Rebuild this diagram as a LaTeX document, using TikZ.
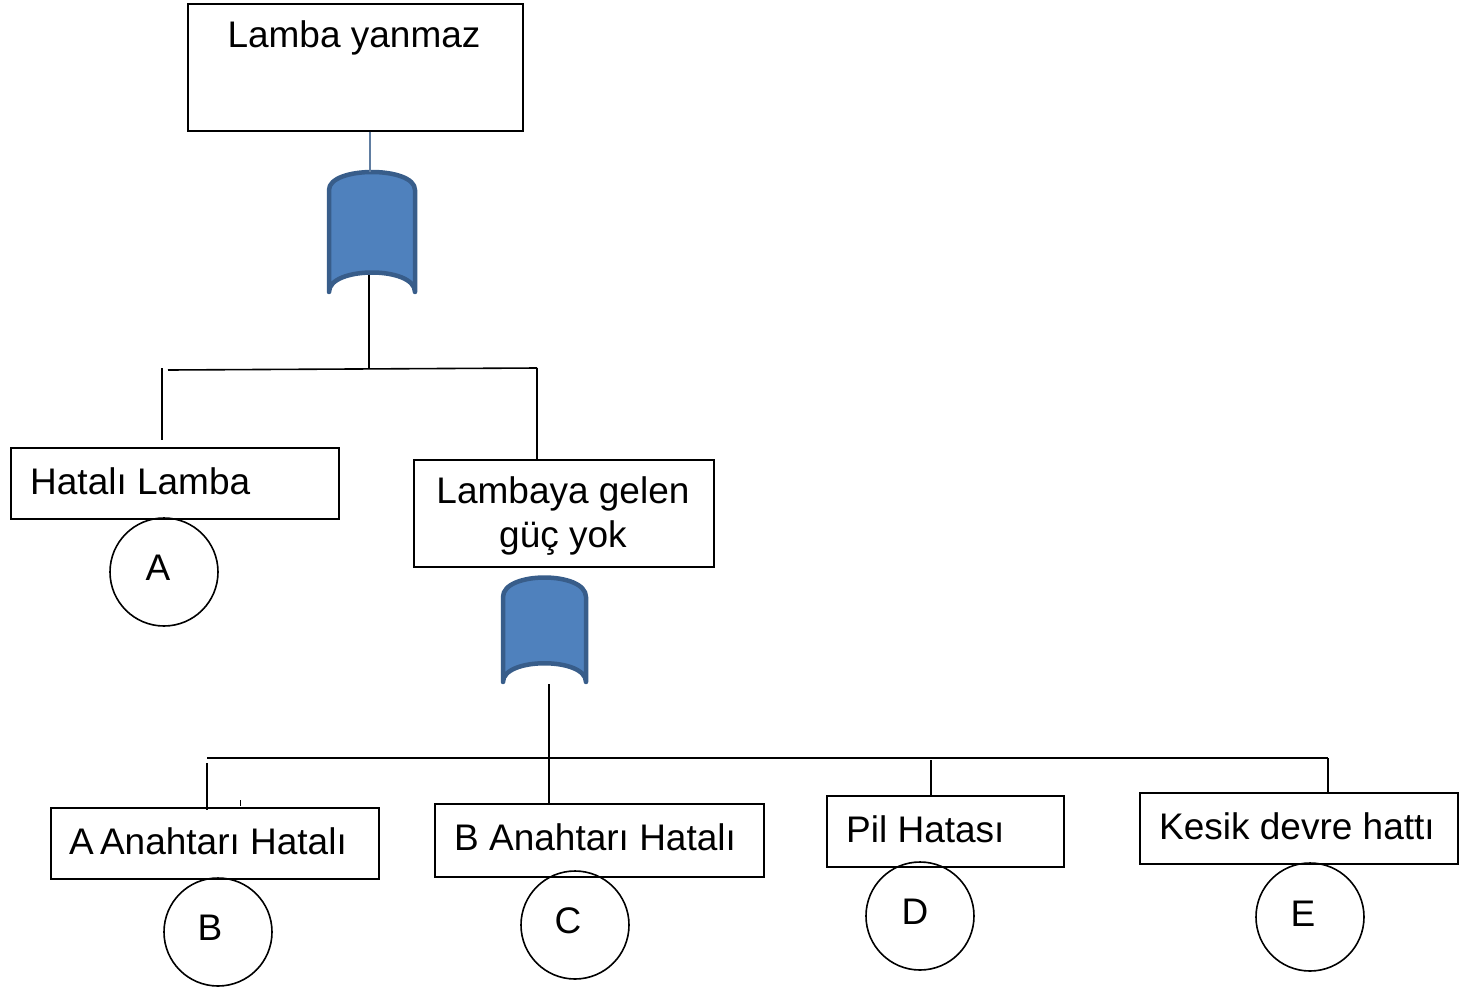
\documentclass[tikz,border=0pt]{standalone}
\usepackage{fontspec}
\setmainfont{Liberation Sans}
\begin{document}
\begin{tikzpicture}[x=1pt,y=-1pt,
  box/.style={draw=black,line width=1.6pt,rectangle,inner sep=0pt,anchor=north west},
  lbl/.style={font=\fontsize{37}{44}\selectfont,inner sep=0pt},
  evt/.style={draw=black,line width=1.6pt,circle,minimum size=108pt,inner sep=0pt},
  gatestyle/.style={fill=gatefill,draw=gatedraw,line width=4.5pt,line cap=round,line join=round},
  wire/.style={draw=black,line width=1.6pt}]
\definecolor{gatefill}{HTML}{4F81BD}
\definecolor{gatedraw}{HTML}{385D8A}
\useasboundingbox (0,0) rectangle (1465,986);

% boxes
\node[box,minimum width=335pt,minimum height=127pt] (top) at (187,3) {};
\node[lbl] (toptxt) at (354,38) {Lamba yanmaz};

\node[box,minimum width=328pt,minimum height=71pt] (hl) at (10,447) {};
\node[lbl,anchor=west] (hltxt) at (30,481) {Hatalı Lamba};

\node[box,minimum width=300pt,minimum height=107pt] (lg) at (413,459) {};
\node[lbl,align=center] (lgtxt) at (563,516) {Lambaya gelen\\güç yok};

\node[box,minimum width=328pt,minimum height=71pt] (aa) at (50,807) {};
\node[lbl,anchor=west] (aatxt) at (69,841) {A\,Anahtarı Hatalı};

\node[box,minimum width=329pt,minimum height=73pt] (ba) at (434,803) {};
\node[lbl,anchor=west] (batxt) at (454,837) {B Anahtarı Hatalı};

\node[box,minimum width=237pt,minimum height=71pt] (ph) at (826,795) {};
\node[lbl,anchor=west] (phtxt) at (846,829) {Pil Hatası};

\node[box,minimum width=318pt,minimum height=71pt] (kd) at (1139,792) {};
\node[lbl,anchor=west] (kdtxt) at (1159,826) {Kesik devre hattı};

% circles
\node[evt] (A) at (164,572) {};
\node[lbl] at (158,568) {A};
\node[evt] (B) at (218,932) {};
\node[lbl] at (210,928) {B};
\node[evt] (C) at (575,925) {};
\node[lbl] at (568,921) {C};
\node[evt] (D) at (920,916) {};
\node[lbl] at (915,912) {D};
\node[evt] (E) at (1310,917) {};
\node[lbl] at (1303,914) {E};

% gates
\path[gatestyle] (329,292) -- (329,190) .. controls (329,166) and (415,166) .. (415,190)
  -- (415,292) .. controls (415,266) and (329,266) .. (329,292) -- cycle;
\coordinate (g1top) at (370,172);
\coordinate (g1bot) at (369,275);
\path[gatestyle] (503,682) -- (503,597) .. controls (503,571) and (586,571) .. (586,597)
  -- (586,682) .. controls (586,657) and (503,657) .. (503,682) -- cycle;
\coordinate (g2bot) at (549,684);

% connectors
\draw[draw=gatedraw!80!white,line width=1.4pt] (top.south -| g1top) -- (g1top);
\coordinate (j1) at (369,369);
\draw[wire] (g1bot) -- (j1);
\draw[wire] (168,370) -- (537,368);
\draw[wire] (162,368) -- (162,440);
\draw[wire] (537,368) -- (lg.north -| 537,0);

\coordinate (j2) at (549,758);
\draw[wire] (g2bot) -- (ba.north -| g2bot);
\draw[wire] (207,758) -- (1328,758);
\draw[wire] (207,763) -- (207,810);
\draw[wire,line width=1pt] (240,800) -- (240,806);
\draw[wire] (931,760) -- (ph.north -| 931,0);
\draw[wire] (1328,758) -- (kd.north -| 1328,0);
\end{tikzpicture}
\end{document}
